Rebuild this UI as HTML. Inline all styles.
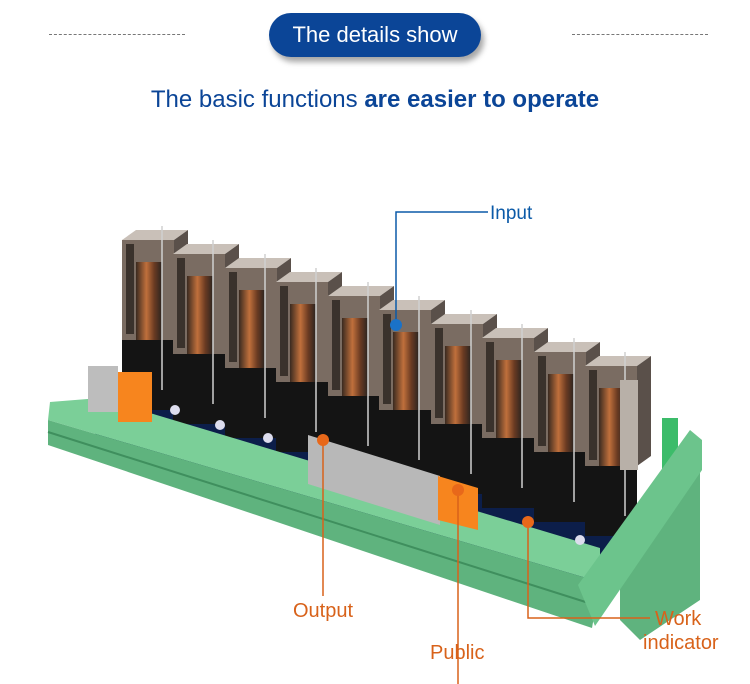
<!DOCTYPE html>
<html><head><meta charset="utf-8"><style>
html,body{margin:0;padding:0;background:#fff}
body{width:750px;height:684px;overflow:hidden;position:relative;font-family:"Liberation Sans",sans-serif}
.dash{position:absolute;top:34px;width:136px;border-top:1px dashed #777}
.pill{position:absolute;left:269px;top:13px;width:212px;height:44px;border-radius:22px;background:#0b4597;color:#fff;font-size:22px;line-height:44px;text-align:center;box-shadow:3px 5px 6px rgba(0,0,0,.35)}
.sub{position:absolute;top:86px;left:0;width:750px;text-align:center;color:#0b4597;font-size:24px;letter-spacing:0px}
.sub b{font-weight:900}
</style></head><body>
<div class="dash" style="left:49px"></div>
<div class="dash" style="left:572px"></div>
<div class="pill">The details show</div>
<div class="sub">The basic functions <b>are easier to operate</b></div>
<svg width="750" height="684" style="position:absolute;left:0;top:0">
<defs>
<linearGradient id="rel" x1="0" x2="1"><stop offset="0" stop-color="#3a2a20"/><stop offset=".4" stop-color="#c0703c"/><stop offset=".7" stop-color="#6b3b22"/><stop offset="1" stop-color="#2a2420"/></linearGradient>
<g id="relay">
<rect x="0" y="95" width="52" height="75" fill="#141414"/>
<rect x="0" y="0" width="52" height="100" fill="#7a6c62"/>
<rect x="4" y="4" width="8" height="90" fill="#3a322c"/>
<rect x="14" y="22" width="26" height="78" fill="url(#rel)"/>
<polygon points="0,0 14,-10 66,-10 52,0" fill="#c9c0b8"/>
<polygon points="52,0 66,-10 66,90 52,100" fill="#5a504a"/>
<line x1="40" y1="-14" x2="40" y2="150" stroke="#d0d0d0" stroke-width="1.5"/>
</g>
</defs>
<!-- pcb -->
<polygon points="95,385 690,520 680,575 560,580 150,455 95,440" fill="#0c1e4a"/>
<!-- right back/feet -->
<rect x="662" y="418" width="16" height="60" fill="#3cbc6a"/>
<polygon points="620,560 690,470 700,470 700,600 640,640 620,620" fill="#5fb37e"/>
<use href="#relay" x="122" y="240"/>
<use href="#relay" x="173" y="254"/>
<use href="#relay" x="225" y="268"/>
<use href="#relay" x="276" y="282"/>
<use href="#relay" x="328" y="296"/>
<use href="#relay" x="379" y="310"/>
<use href="#relay" x="431" y="324"/>
<use href="#relay" x="482" y="338"/>
<use href="#relay" x="534" y="352"/>
<use href="#relay" x="585" y="366"/>
<rect x="620" y="380" width="18" height="90" fill="#b8b0a8"/>
<!-- green rail -->
<polygon points="50,402 100,398 600,548 600,582 48,420" fill="#7bcf98"/>
<polygon points="48,420 600,582 592,628 48,445" fill="#5fb37e"/>
<line x1="48" y1="432" x2="595" y2="605" stroke="#3f8f5e" stroke-width="2"/>
<!-- right end cap front -->
<polygon points="578,585 690,430 702,440 702,470 595,626" fill="#6cc48c"/>
<!-- left terminals -->
<rect x="88" y="366" width="30" height="46" fill="#bdbdbd"/>
<rect x="118" y="372" width="34" height="50" fill="#f7851e"/>
<!-- middle terminal -->
<polygon points="308,435 440,476 440,525 308,484" fill="#b8b8b8"/>
<polygon points="438,476 478,488 478,530 438,520" fill="#f7851e"/>
<!-- leds -->
<circle cx="175" cy="410" r="5" fill="#dde"/><circle cx="220" cy="425" r="5" fill="#dde"/><circle cx="268" cy="438" r="5" fill="#dde"/>
<circle cx="528" cy="522" r="5" fill="#dde"/><circle cx="580" cy="540" r="5" fill="#dde"/>
<!-- callouts -->
<polyline points="396,325 396,212 488,212" fill="none" stroke="#0b5aa8" stroke-width="1.5"/>
<circle cx="396" cy="325" r="6" fill="#1a72c8"/>
<polyline points="323,438 323,596" fill="none" stroke="#d8621a" stroke-width="1.5"/>
<circle cx="323" cy="440" r="6" fill="#e8681a"/>
<polyline points="458,490 458,684" fill="none" stroke="#d8621a" stroke-width="1.5"/>
<circle cx="458" cy="490" r="6" fill="#e8681a"/>
<polyline points="528,522 528,618 650,618" fill="none" stroke="#d8621a" stroke-width="1.5"/>
<circle cx="528" cy="522" r="6" fill="#e8681a"/>
<text x="490" y="219" fill="#0b5aa8" font-size="19" font-family="Liberation Sans">Input</text>
<text x="293" y="617" fill="#d8621a" font-size="20" font-family="Liberation Sans">Output</text>
<text x="430" y="659" fill="#d8621a" font-size="20" font-family="Liberation Sans">Public</text>
<text x="655" y="625" fill="#d8621a" font-size="20" font-family="Liberation Sans">Work</text>
<text x="643" y="649" fill="#d8621a" font-size="20" font-family="Liberation Sans">indicator</text>
</svg>
</body></html>
